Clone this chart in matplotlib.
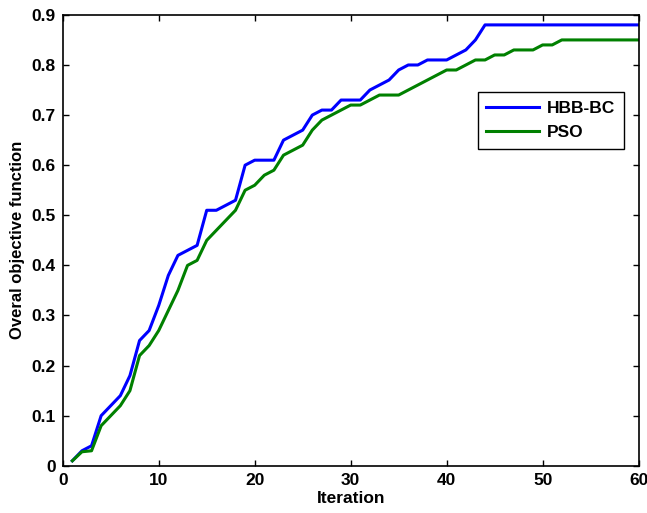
import matplotlib
matplotlib.use("Agg")
import matplotlib.pyplot as plt
import numpy as np

# iterations 1..60
iterations = np.arange(1, 61)

hbb_bc = [0.01, 0.03, 0.04, 0.10, 0.12, 0.14, 0.18, 0.25, 0.27, 0.32,
          0.38, 0.42, 0.43, 0.44, 0.51, 0.51, 0.52, 0.53, 0.60, 0.61,
          0.61, 0.61, 0.65, 0.66, 0.67, 0.70, 0.71, 0.71, 0.73, 0.73,
          0.73, 0.75, 0.76, 0.77, 0.79, 0.80, 0.80, 0.81, 0.81, 0.81,
          0.82, 0.83, 0.85, 0.88, 0.88, 0.88, 0.88, 0.88, 0.88, 0.88,
          0.88, 0.88, 0.88, 0.88, 0.88, 0.88, 0.88, 0.88, 0.88, 0.88]

pso = [0.01, 0.028, 0.03, 0.08, 0.10, 0.12, 0.15, 0.22, 0.24, 0.27,
       0.31, 0.35, 0.40, 0.41, 0.45, 0.47, 0.49, 0.51, 0.55, 0.56,
       0.58, 0.59, 0.62, 0.63, 0.64, 0.67, 0.69, 0.70, 0.71, 0.72,
       0.72, 0.73, 0.74, 0.74, 0.74, 0.75, 0.76, 0.77, 0.78, 0.79,
       0.79, 0.80, 0.81, 0.81, 0.82, 0.82, 0.83, 0.83, 0.83, 0.84,
       0.84, 0.85, 0.85, 0.85, 0.85, 0.85, 0.85, 0.85, 0.85, 0.85]

x_ticks = [0, 10, 20, 30, 40, 50, 60]
y_ticks = [0, 0.1, 0.2, 0.3, 0.4, 0.5, 0.6, 0.7, 0.8, 0.9]
y_tick_labels = ["0", "0.1", "0.2", "0.3", "0.4", "0.5", "0.6", "0.7", "0.8", "0.9"]

plt.rcParams["font.family"] = ["Liberation Sans", "DejaVu Sans"]
plt.rcParams["font.weight"] = "bold"

fig = plt.figure(figsize=(6.47, 5.13), dpi=100)
ax = fig.add_axes([0.097, 0.092, 0.890, 0.879])

ax.plot(iterations, hbb_bc, color="#0000ff", linewidth=2.2, label="HBB-BC")
ax.plot(iterations, pso, color="#008000", linewidth=2.2, label="PSO")

ax.set_xlim(0, 60)
ax.set_ylim(0, 0.9)
ax.set_xticks(x_ticks)
ax.set_yticks(y_ticks)
ax.set_yticklabels(y_tick_labels)
ax.tick_params(direction="in", length=4, width=1, top=True, right=True,
               labelsize=12.5, pad=5)
for lbl in ax.get_xticklabels() + ax.get_yticklabels():
    lbl.set_fontweight("bold")
for sp in ax.spines.values():
    sp.set_linewidth(1.2)

ax.set_xlabel("Iteration", fontsize=12.5, fontweight="bold", labelpad=2)
ax.set_ylabel("Overal objective function", fontsize=12, fontweight="bold", labelpad=5)

leg = ax.legend(loc="upper right", bbox_to_anchor=(0.975, 0.828),
                borderaxespad=0,
                prop={"weight": "bold", "size": 12.5}, fancybox=False,
                framealpha=1, edgecolor="black", handlelength=3.0,
                borderpad=0.5, labelspacing=0.5, handletextpad=0.5)
leg.get_frame().set_linewidth(1.0)

fig.savefig("out.png", dpi=100)
